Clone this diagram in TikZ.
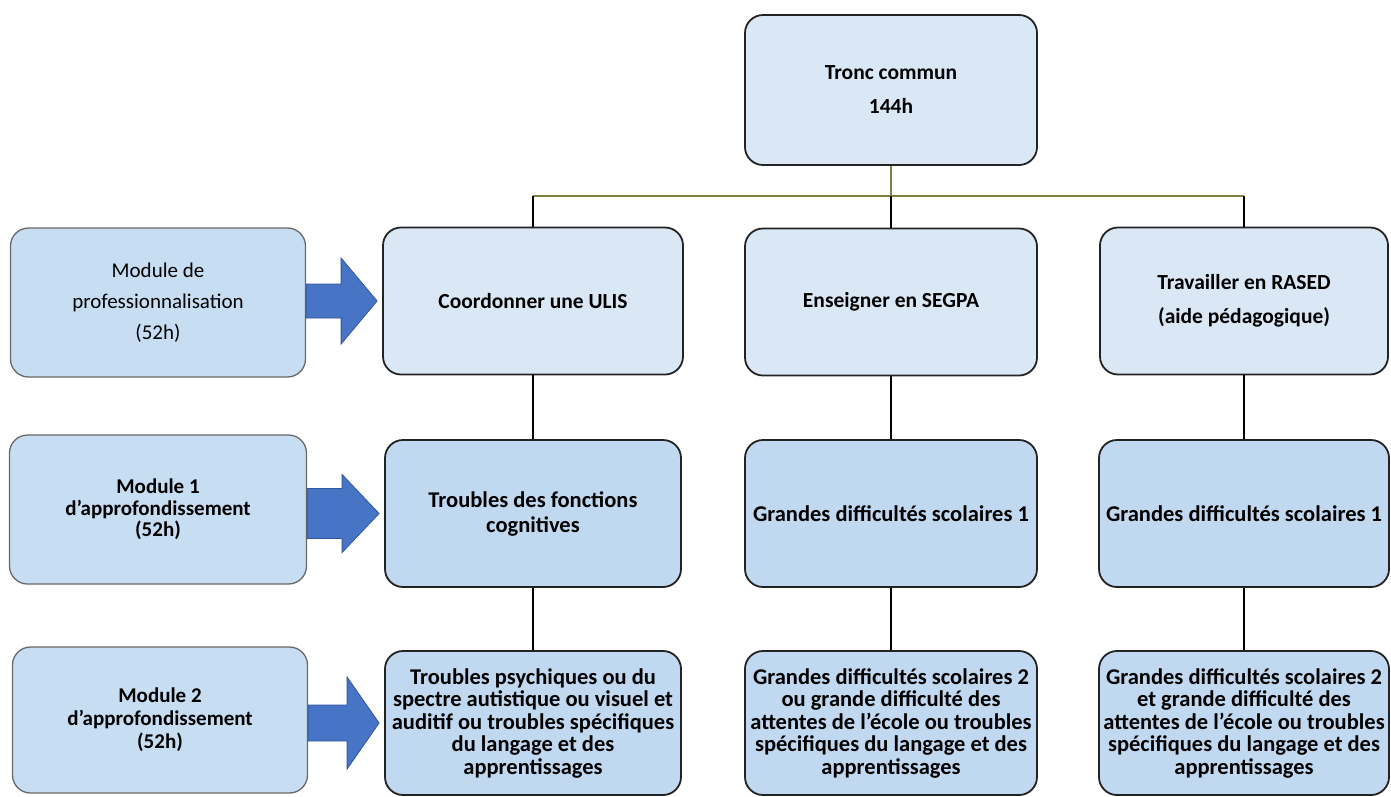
\documentclass[tikz,border=0pt]{standalone}
\usepackage{fontspec}
\setmainfont{Carlito}
\usetikzlibrary{calc}

\definecolor{paleblue}{RGB}{218,232,246}
\definecolor{boxblue}{RGB}{193,217,240}
\definecolor{sideblue}{RGB}{198,221,242}
\definecolor{boxline}{RGB}{35,35,35}
\definecolor{sideline}{RGB}{105,105,105}
\definecolor{trunkline}{RGB}{128,128,64}
\definecolor{arrowblue}{RGB}{72,116,198}
\definecolor{arrowedge}{RGB}{50,88,160}

\begin{document}
\begin{tikzpicture}[x=1pt,y=-1pt,
  box/.style={draw=boxline,line width=1.8pt,rounded corners=18pt,fill=boxblue,align=center,
    inner sep=2pt,font=\bfseries\fontsize{22.5}{22.5}\selectfont},
  topbox/.style={box,fill=paleblue,font=\bfseries\fontsize{21.5}{34}\selectfont},
  sidebox/.style={box,draw=sideline,line width=1.3pt,fill=sideblue},
  link/.style={line width=1.8pt,draw=black},
  trunk/.style={line width=2pt,draw=trunkline},
  bigarrow/.style={fill=arrowblue,draw=arrowedge,line width=0.8pt}]

\useasboundingbox (0,0) rectangle (1391,796);

% tronc commun
\node[topbox,minimum width=292pt,minimum height=150pt] (tronc) at (891,90) {Tronc commun\\144h};

% parcours
\node[topbox,minimum width=300pt,minimum height=147pt] (ulis) at (533,301) {Coordonner une ULIS};
\node[topbox,minimum width=292pt,minimum height=147pt] (segpa) at (891,302) {Enseigner en SEGPA};
\node[topbox,minimum width=288pt,minimum height=147pt] (rased) at (1244,301) {Travailler en RASED\\(aide pédagogique)};

% module 1
\node[box,minimum width=296pt,minimum height=147pt,font=\bfseries\fontsize{22.5}{25}\selectfont] (cogn) at (533,513.5) {Troubles des fonctions\\cognitives};
\node[box,minimum width=292pt,minimum height=147pt] (gds1) at (891,513.5) {Grandes difficultés scolaires 1};
\node[box,minimum width=290pt,minimum height=147pt] (gdr1) at (1244,513.5) {Grandes difficultés scolaires 1};

% module 2
\node[box,minimum width=296pt,minimum height=144pt] (psy) at (533,723) {Troubles psychiques ou du\\spectre autistique ou visuel et\\auditif ou troubles spécifiques\\du langage et des\\apprentissages};
\node[box,minimum width=292pt,minimum height=144pt] (gds2) at (891,723) {Grandes difficultés scolaires 2\\ou grande difficulté des\\attentes de l'école ou troubles\\spécifiques du langage et des\\apprentissages};
\node[box,minimum width=290pt,minimum height=144pt] (gdr2) at (1244,723) {Grandes difficultés scolaires 2\\et grande difficulté des\\attentes de l'école ou troubles\\spécifiques du langage et des\\apprentissages};

% modules a gauche
\node[sidebox,minimum width=295pt,minimum height=149pt,font=\fontsize{21}{31}\selectfont] (mod1) at (158,302.5) {Module de\\professionnalisation\\(52h)};
\node[sidebox,minimum width=297pt,minimum height=149pt,font=\bfseries\fontsize{21}{21.5}\selectfont] (mod2) at (158,509.5) {Module 1\\d’approfondissement\\(52h)};
\node[sidebox,minimum width=295pt,minimum height=146pt,font=\bfseries\fontsize{21}{23}\selectfont] (mod3) at (160,720) {Module 2\\d’approfondissement\\(52h)};

% liaisons
\draw[trunk] (tronc.south) -- ++(0,30) coordinate (hub);
\draw[trunk] (ulis.north |- hub) -- (rased.north |- hub);
\foreach \n in {ulis,segpa,rased}
  \draw[link] (\n.north |- hub) -- (\n.north);
\draw[link] (ulis) -- (cogn) (cogn) -- (psy);
\draw[link] (segpa) -- (gds1) (gds1) -- (gds2);
\draw[link] (rased) -- (gdr1) (gdr1) -- (gdr2);

% fleches
\foreach \src/\dst/\shaftw/\headw/\headl in {mod1/ulis/17/43/36,mod2/cogn/25/39/37,mod3/psy/18/46/32}
  \filldraw[bigarrow] let \p1=(\src.east), \p2=(\dst.west) in
    (\x1,\y2+\shaftw*1pt) -- (\x2-\headl*1pt-5pt,\y2+\shaftw*1pt) -- (\x2-\headl*1pt-5pt,\y2+\headw*1pt)
    -- (\x2-5pt,\y2) -- (\x2-\headl*1pt-5pt,\y2-\headw*1pt) -- (\x2-\headl*1pt-5pt,\y2-\shaftw*1pt)
    -- (\x1,\y2-\shaftw*1pt) -- cycle;
\end{tikzpicture}
\end{document}
